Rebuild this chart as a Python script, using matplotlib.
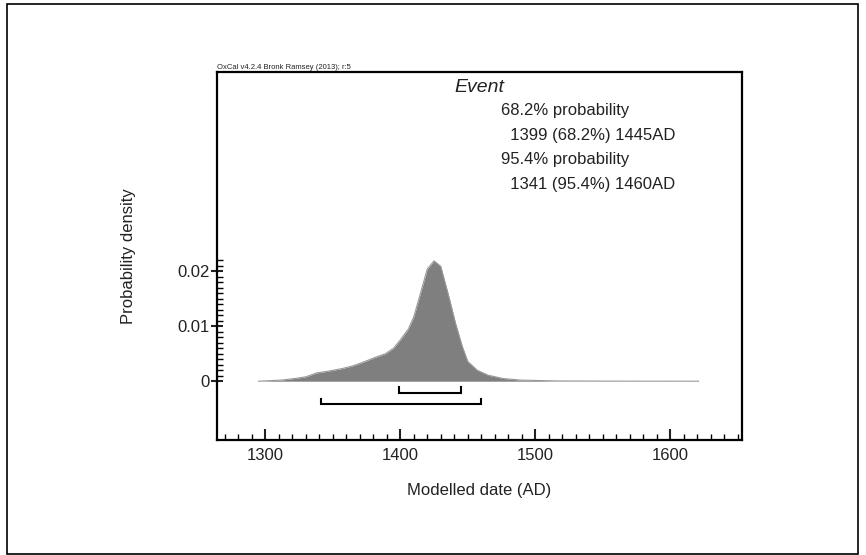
import matplotlib
matplotlib.use("Agg")
import matplotlib.pyplot as plt
from matplotlib.patches import Rectangle
from matplotlib.ticker import FixedLocator, MultipleLocator
import numpy as np

plt.rcParams['font.family'] = ['Liberation Sans', 'DejaVu Sans']

# posterior density of the event
years = [1295, 1312, 1322, 1330, 1338, 1346, 1357, 1365, 1373, 1381, 1389, 1395,
         1400, 1406, 1410, 1415, 1420, 1425, 1430, 1436, 1441, 1446, 1450, 1457,
         1465, 1476, 1489, 1516, 1560, 1621]
density = [0.0, 0.0002, 0.0005, 0.0008, 0.0015, 0.0018, 0.0023, 0.0028, 0.0035,
           0.0043, 0.005, 0.006, 0.0075, 0.0095, 0.0117, 0.016, 0.0204, 0.0219,
           0.0209, 0.0154, 0.0105, 0.0063, 0.0036, 0.002, 0.0011, 0.0005, 0.0002,
           0.00005, 0.00001, 0.0]

# highest posterior density ranges
range_68 = (1399, 1445)
range_95 = (1341, 1460)

summary_lines = ["68.2% probability", "  1399 (68.2%) 1445AD",
                 "95.4% probability", "  1341 (95.4%) 1460AD"]

fig = plt.figure(figsize=(8.66, 5.55), dpi=100)
ax = fig.add_axes([0.2502, 0.2072, 0.6063, 0.6625])

ax.fill_between(years, density, 0, color='#7f7f7f', lw=0)
ax.plot(years, density, color='#999999', lw=0.8)

# range brackets
def bracket(r, y, h):
    ax.plot([r[0], r[0], r[1], r[1]], [y + h, y, y, y + h], color='black', lw=1.5,
            solid_joinstyle='miter')

bracket(range_68, -0.0021, 0.0010)
bracket(range_95, -0.0042, 0.0010)

ax.set_xlim(1264, 1653)
ax.set_ylim(-0.0107, 0.0562)

ax.set_xticks([1300, 1400, 1500, 1600])
ax.xaxis.set_minor_locator(MultipleLocator(10))
ax.set_yticks([0, 0.01, 0.02])
ax.set_yticklabels(['0', '0.01', '0.02'])
ax.yaxis.set_minor_locator(FixedLocator(np.arange(0, 0.0225, 0.001)))

ax.tick_params(axis='x', which='major', direction='in', length=8, width=1.5,
               labelsize=12, pad=6, colors='#222222')
ax.tick_params(axis='x', which='minor', direction='in', length=4, width=1)
ax.tick_params(axis='y', which='major', direction='inout', length=8, width=1.5,
               labelsize=12, pad=1, colors='#222222')
ax.tick_params(axis='y', which='minor', direction='in', length=4, width=1)

for s in ax.spines.values():
    s.set_linewidth(1.6)

ax.set_xlabel("Modelled date (AD)", fontsize=12, labelpad=14, color='#222222')
ax.set_ylabel("Probability density", fontsize=12, labelpad=30, color='#222222')

ax.text(0.452, 0.96, "Event", transform=ax.transAxes, fontsize=14,
        style='italic', va='center', ha='left', color='#222222')
for i, line in enumerate(summary_lines):
    ax.text(0.541, 0.895 - i * 0.0667, line, transform=ax.transAxes,
            fontsize=12, va='center', ha='left', color='#222222')

fig.text(0.2502, 0.8725, "OxCal v4.2.4 Bronk Ramsey (2013); r:5", fontsize=5.5,
         ha='left', va='bottom', color='#222222')

# outer frame
fig.patches.append(Rectangle((7 / 866, 1 / 555), 851 / 866, 550 / 555,
                             transform=fig.transFigure, fill=False,
                             edgecolor='black', lw=1.2))

fig.savefig("out.png", dpi=100)
